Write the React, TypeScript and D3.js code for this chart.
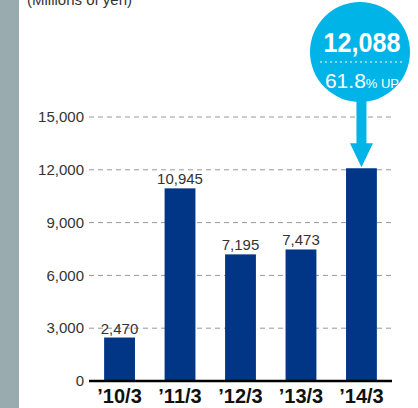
import React from "react";
import * as d3 from "d3";

const categories = ["’10/3", "’11/3", "’12/3", "’13/3", "’14/3"];
const values = [2470, 10945, 7195, 7473, 12088];
const yTicks = [0, 3000, 6000, 9000, 12000, 15000];
const unitLabel = "(Millions of yen)";
const calloutValue = "12,088";
const calloutPct = "61.8";
const calloutSuffix = "% UP";

const W = 418;
const H = 408;

export default function App() {
  const x = d3
    .scaleBand<string>()
    .domain(categories)
    .range([89, 392])
    .paddingInner(0.49)
    .paddingOuter(0.25);
  const y = d3.scaleLinear().domain([0, 15000]).range([381, 117]);
  const fmt = d3.format(",");
  const font = "'Liberation Sans', Arial, sans-serif";

  const lastIdx = values.length - 1;
  const cx = (x(categories[lastIdx]) ?? 0) + x.bandwidth() / 2;
  const tipY = y(values[lastIdx]) - 1;
  const circleCx = 360;
  const circleCy = 52;
  const r = 50;
  const headTop = tipY - 24;

  return (
    <svg
      width={W}
      height={H}
      style={{ position: "absolute", left: 0, top: 0, fontFamily: font }}
    >
      <rect x={0} y={0} width={W} height={H} fill="#fff" />
      <rect x={0} y={0} width={19} height={H} fill="#9aabaf" />
      <text x={27} y={5} fontSize={15} fill="#333">
        {unitLabel}
      </text>

      {yTicks.map((t) => (
        <g key={t}>
          {t > 0 && (
            <line
              x1={89}
              x2={392}
              y1={y(t)}
              y2={y(t)}
              stroke="#999"
              strokeWidth={1}
              strokeDasharray="5,4"
            />
          )}
          <text
            x={84}
            y={y(t)}
            dy="0.35em"
            textAnchor="end"
            fontSize={15}
            fill="#333"
          >
            {fmt(t)}
          </text>
        </g>
      ))}

      {values.map((v, i) => (
        <g key={categories[i]}>
          <rect
            x={x(categories[i])}
            y={y(v)}
            width={x.bandwidth()}
            height={y(0) - y(v)}
            fill="#003685"
          />
          {i !== lastIdx && (
            <text
              x={(x(categories[i]) ?? 0) + x.bandwidth() / 2}
              y={y(v) - 4}
              textAnchor="middle"
              fontSize={15}
              fill="#333"
            >
              {fmt(v)}
            </text>
          )}
          <text
            x={(x(categories[i]) ?? 0) + x.bandwidth() / 2}
            y={403}
            textAnchor="middle"
            fontSize={20}
            fontWeight="bold"
            fill="#111"
          >
            {categories[i]}
          </text>
        </g>
      ))}

      <line x1={89} x2={392} y1={y(0)} y2={y(0)} stroke="#000" strokeWidth={2.5} />

      {/* callout */}
      <path
        d={`M${cx - 5},${circleCy + r - 4} L${cx + 5},${circleCy + r - 4} L${cx + 5},${headTop} L${cx + 11.5},${headTop} L${cx},${tipY} L${cx - 11.5},${headTop} L${cx - 5},${headTop} Z`}
        fill="#00b4e8"
      />
      <circle cx={circleCx} cy={circleCy} r={r} fill="#00b4e8" />
      <text
        x={362}
        y={52}
        textAnchor="middle"
        fontSize={27}
        fontWeight="bold"
        fill="#fff"
        textLength={77}
        lengthAdjust="spacingAndGlyphs"
      >
        {calloutValue}
      </text>
      <line
        x1={320}
        x2={403}
        y1={62}
        y2={62}
        stroke="#fff"
        strokeWidth={1}
        strokeDasharray="2,3"
      />
      <text x={362} y={88} textAnchor="middle" fill="#fff">
        <tspan fontSize={21}>{calloutPct}</tspan>
        <tspan fontSize={13}>{calloutSuffix}</tspan>
      </text>
    </svg>
  );
}
